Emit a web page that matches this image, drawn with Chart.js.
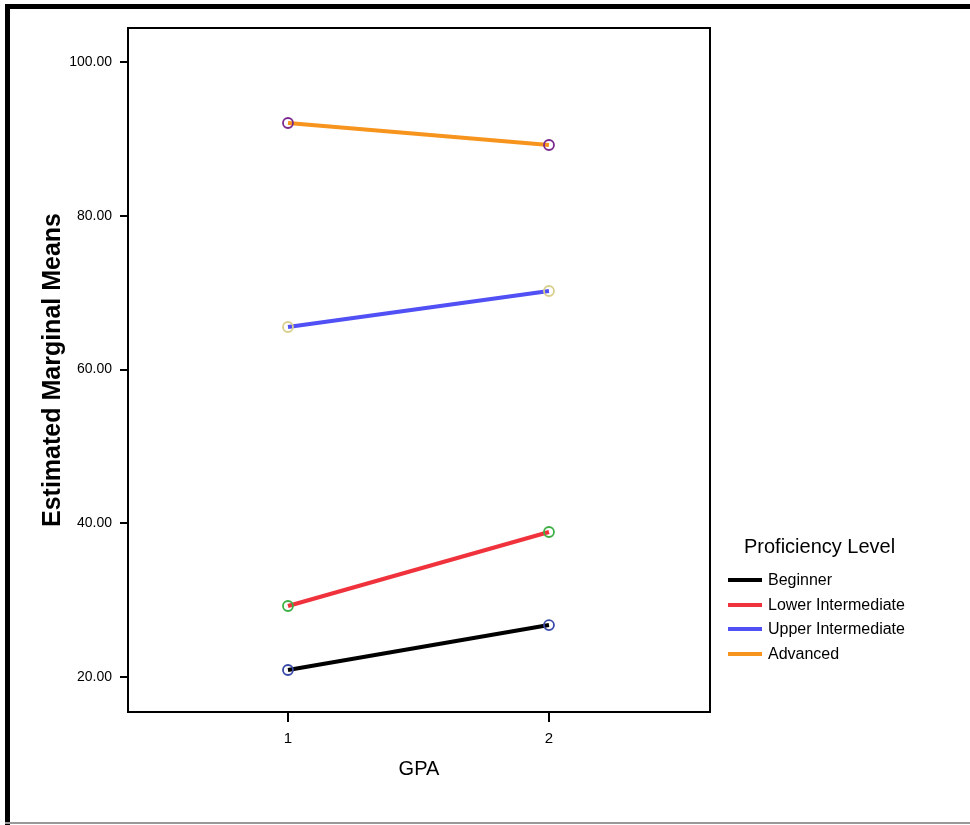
<!DOCTYPE html>
<html>
<head>
<meta charset="utf-8">
<script src="https://cdn.jsdelivr.net/npm/chart.js@4.4.0/dist/chart.umd.min.js"></script>
<style>
html,body{margin:0;padding:0;background:#fff;}
#wrap{position:relative;width:970px;height:825px;}
</style>
</head>
<body>
<div id="wrap"><canvas id="c" width="970" height="825"></canvas></div>
<script>
const gpaLevels = [1, 2];
const seriesNames = ["Beginner", "Lower Intermediate", "Upper Intermediate", "Advanced"];
const beginner = [20.91, 26.76];
const lowerIntermediate = [29.24, 38.86];
const upperIntermediate = [65.53, 70.21];
const advanced = [92.06, 89.2];
const yTicks = [20, 40, 60, 80, 100];
const xTicks = [1, 2];

const lineColors = ["#000000", "#f0323c", "#5050f5", "#f7941d"];
const markerColors = ["#3a4aa8", "#3cb043", "#d8cf8c", "#7a2a8e"];
const allSeries = [beginner, lowerIntermediate, upperIntermediate, advanced];

const FONT = "'Liberation Sans', Arial, sans-serif";

const datasets = allSeries.map((vals, i) => ({
  label: seriesNames[i],
  data: gpaLevels.map((g, j) => ({x: g, y: vals[j]})),
  borderColor: lineColors[i],
  backgroundColor: lineColors[i],
  borderWidth: 4,
  pointRadius: 5,
  pointBorderWidth: 1.8,
  pointBorderColor: markerColors[i],
  pointBackgroundColor: 'rgba(0,0,0,0)',
  tension: 0,
  fill: false
}));

const framePlugin = {
  id: 'frame',
  beforeDraw(chart) {
    const ctx = chart.ctx;
    ctx.save();
    ctx.fillStyle = '#fff';
    ctx.fillRect(0, 0, chart.width, chart.height);
    ctx.fillStyle = '#000';
    ctx.fillRect(5, 4, 965, 5);
    ctx.fillRect(5, 4, 5, 821);
    ctx.fillStyle = '#999';
    ctx.fillRect(5, 822, 965, 2);
    ctx.restore();
  },
  afterDraw(chart) {
    const ctx = chart.ctx;
    const a = chart.chartArea;
    ctx.save();
    ctx.strokeStyle = '#000';
    ctx.lineWidth = 2;
    ctx.strokeRect(a.left, a.top, a.right - a.left, a.bottom - a.top);
    // axis titles
    ctx.fillStyle = '#000';
    ctx.textAlign = 'center';
    ctx.textBaseline = 'middle';
    ctx.font = "20px " + FONT;
    ctx.fillText("GPA", (a.left + a.right) / 2, 769);
    ctx.save();
    ctx.translate(53, (a.top + a.bottom) / 2);
    ctx.rotate(-Math.PI / 2);
    ctx.font = "bold 25px " + FONT;
    ctx.fillText("Estimated Marginal Means", 0, 0);
    ctx.restore();
    // legend
    ctx.textAlign = 'left';
    ctx.font = "20px " + FONT;
    ctx.fillText("Proficiency Level", 744, 547);
    ctx.font = "16px " + FONT;
    const ys = [580, 605, 629, 654];
    chart.data.datasets.forEach((ds, i) => {
      ctx.fillStyle = ds.borderColor;
      ctx.fillRect(728, ys[i] - 2, 34, 4);
      ctx.fillStyle = '#000';
      ctx.fillText(ds.label, 768, ys[i] + 1);
    });
    ctx.restore();
  }
};

new Chart(document.getElementById('c'), {
  type: 'line',
  data: {datasets},
  options: {
    responsive: false,
    animation: false,
    devicePixelRatio: 1,
    layout: {padding: {left: 0, top: 28, right: 260, bottom: 53}},
    plugins: {legend: {display: false}, tooltip: {enabled: false}},
    scales: {
      x: {
        type: 'linear',
        min: 0.387, max: 2.617,
        afterBuildTicks: s => { s.ticks = xTicks.map(v => ({value: v})); },
        afterFit: s => { s.height = 60; },
        grid: {drawOnChartArea: false, drawTicks: true, tickLength: 10, color: '#000', lineWidth: 2},
        border: {display: true, color: '#000', width: 2},
        ticks: {color: '#000', font: {family: FONT, size: 15}, padding: 8, callback: v => String(v)}
      },
      y: {
        type: 'linear',
        min: 15.45, max: 104.42,
        afterBuildTicks: s => { s.ticks = yTicks.map(v => ({value: v})); },
        afterFit: s => { s.width = 128; },
        grid: {drawOnChartArea: false, drawTicks: true, tickLength: 8, color: '#000', lineWidth: 2},
        border: {display: true, color: '#000', width: 2},
        ticks: {color: '#000', font: {family: FONT, size: 14}, padding: 8, callback: v => Number(v).toFixed(2)}
      }
    }
  },
  plugins: [framePlugin]
});
</script>
</body>
</html>
